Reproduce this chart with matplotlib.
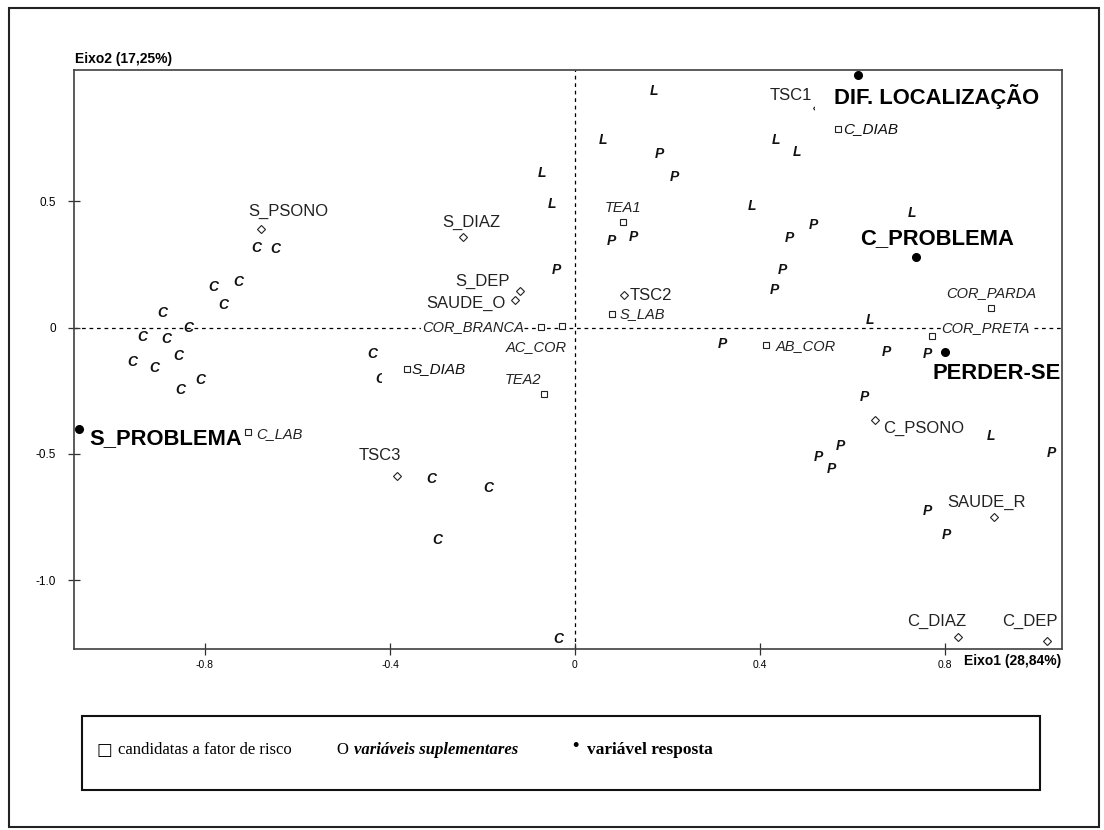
import matplotlib
matplotlib.use('Agg')
import matplotlib.pyplot as plt
from matplotlib.patches import Rectangle

plt.rcParams['axes.unicode_minus'] = False

# ---------------- data ----------------
c_x = [-0.689, -0.647, -0.782, -0.727, -0.760, -0.892, -0.836, -0.935, -0.883, -0.857,
       -0.957, -0.910, -0.810, -0.853, -0.438, -0.420, -0.310, -0.187, -0.297, -0.036]
c_y = [0.314, 0.310, 0.160, 0.180, 0.089, 0.057, -0.002, -0.037, -0.045, -0.113,
       -0.136, -0.160, -0.207, -0.247, -0.105, -0.204, -0.599, -0.634, -0.840, -1.231]

l_x = [-0.072, -0.050, 0.170, 0.060, 0.434, 0.481, 0.382, 0.728, 0.637, 0.899]
l_y = [0.611, 0.488, 0.935, 0.741, 0.741, 0.694, 0.480, 0.453, 0.030, -0.429]

p_x = [-0.040, 0.183, 0.215, 0.079, 0.127, 0.464, 0.516, 0.449, 0.432, 0.319,
       0.674, 0.763, 0.626, 0.574, 0.527, 0.555, 1.031, 0.763, 0.802]
p_y = [0.227, 0.686, 0.595, 0.342, 0.358, 0.354, 0.405, 0.227, 0.148, -0.065,
       -0.097, -0.105, -0.275, -0.468, -0.512, -0.559, -0.496, -0.725, -0.820]

risk_labels = ['COR_BRANCA', 'AC_COR', 'S_LAB', 'S_DIAB', 'TEA2', 'TEA1', 'C_DIAB',
               'COR_PARDA', 'COR_PRETA', 'AB_COR', 'C_LAB']
risk_x = [-0.074, -0.029, 0.079, -0.364, -0.068, 0.103, 0.568, 0.899, 0.773, 0.414, -0.708]
risk_y = [0.002, 0.006, 0.053, -0.164, -0.263, 0.417, 0.784, 0.077, -0.034, -0.069, -0.413]

supp_labels = ['S_PSONO', 'S_DIAZ', 'S_DEP', 'SAUDE_O', 'TSC2', 'TSC1', 'TSC3',
               'C_PSONO', 'SAUDE_R', 'C_DIAZ', 'C_DEP']
supp_x = [-0.680, -0.243, -0.118, -0.129, 0.105, 0.523, -0.384, 0.648, 0.905, 0.829, 1.020]
supp_y = [0.389, 0.358, 0.144, 0.109, 0.128, 0.867, -0.587, -0.366, -0.749, -1.223, -1.239]

resp_labels = ['DIF. LOCALIZAÇÃO', 'C_PROBLEMA', 'PERDER-SE', 'S_PROBLEMA']
resp_x = [0.613, 0.737, 0.801, -1.072]
resp_y = [0.998, 0.279, -0.097, -0.401]

xticks = [-0.8, -0.4, 0, 0.4, 0.8]
xtick_labels = ['-0.8', '-0.4', '0', '0.4', '0.8']
yticks = [0.5, 0, -0.5, -1.0]
ytick_labels = ['0.5', '0', '-0.5', '-1.0']

# ---------------- layout (label offsets in pixels: dx right, dy down) ----------------
risk_off = {'COR_BRANCA': (-17, 0, 'right'), 'AC_COR': (-25, 21, 'center'),
            'S_LAB': (8, 0, 'left'), 'S_DIAB': (5, 0, 'left'), 'TEA2': (-21, -14, 'center'),
            'TEA1': (0, -14, 'center'), 'C_DIAB': (5, 0, 'left'), 'COR_PARDA': (1, -15, 'center'),
            'COR_PRETA': (9, -8, 'left'), 'AB_COR': (9, 1, 'left'), 'C_LAB': (9, 2, 'left')}
supp_off = {'S_PSONO': (28, -18, 'center'), 'S_DIAZ': (9, -15, 'center'),
            'S_DEP': (-38, -10, 'center'), 'SAUDE_O': (-49, 3, 'center'),
            'TSC2': (6, 0, 'left'), 'TSC1': (-5, -13, 'right'), 'TSC3': (-18, -20, 'center'),
            'C_PSONO': (8, 8, 'left'), 'SAUDE_R': (-7, -15, 'center'),
            'C_DIAZ': (-22, -15, 'center'), 'C_DEP': (-17, -19, 'center')}
resp_off = {'DIF. LOCALIZAÇÃO': (-24, 21, 'left'), 'C_PROBLEMA': (21, -18, 'center'),
            'PERDER-SE': (-13, 21, 'left'), 'S_PROBLEMA': (10, 10, 'left')}
big_box = {'S_DIAB': 21, 'C_DIAB': 20}

W, H = 1104, 830
SANS = 'Liberation Sans'
SERIF = ['Liberation Serif', 'DejaVu Sans']


def fx(px):
    return px / W


def fy(py):
    return 1 - py / H


fig = plt.figure(figsize=(W / 100, H / 100), dpi=100)
fig.patch.set_facecolor('white')

ax = fig.add_axes([fx(74), fy(649), (1062 - 74) / W, (649 - 70) / H])
ax.set_xlim(-1.0833, 1.0531)
ax.set_ylim(-1.271, 1.018)
for s in ax.spines.values():
    s.set_color('#404040')
    s.set_linewidth(1.2)

ax.axhline(0, color='black', lw=0.9, ls=(0, (3, 3)), zorder=1)
ax.axvline(0, color='black', lw=0.9, ls=(0, (3, 3)), zorder=1)

ax.set_xticks(xticks)
ax.set_xticklabels(xtick_labels, family=SANS, fontsize=7.5)
ax.set_yticks(yticks)
ax.set_yticklabels(ytick_labels, family=SANS, fontsize=8.5)
ax.tick_params(axis='both', direction='inout', length=8, width=0.9, color='#303030')
ax.tick_params(axis='y', pad=9)
ax.tick_params(axis='x', pad=4)

letter_style = dict(family=SANS, fontsize=10, fontweight='bold', fontstyle='italic',
                    ha='center', va='center', zorder=2, color='#111111')
for x, y in zip(c_x, c_y):
    ax.text(x, y, 'C', **letter_style)
for x, y in zip(l_x, l_y):
    ax.text(x, y, 'L', **letter_style)
for x, y in zip(p_x, p_y):
    ax.text(x, y, 'P', **letter_style)

# supplementary variables (open diamonds)
ax.plot(supp_x, supp_y, 'D', ms=4, mfc='white', mec='#222222', mew=0.8, ls='none', zorder=2)
for lab, x, y in zip(supp_labels, supp_x, supp_y):
    dx, dy, ha = supp_off[lab]
    ax.annotate(lab, (x, y), xytext=(dx, -dy), textcoords='offset pixels', ha=ha, va='center',
                family=SANS, fontsize=12, color='#222222', zorder=4,
                bbox=dict(facecolor='white', edgecolor='none', pad=0.5))

# risk factor candidates (open squares)
for lab, x, y in zip(risk_labels, risk_x, risk_y):
    dx, dy, ha = risk_off[lab]
    if lab in big_box:
        ax.annotate(lab, (x, y), xytext=(dx, -dy), textcoords='offset pixels', ha=ha, va='center',
                    family=SANS, fontsize=11, fontstyle='italic', color='#111111', zorder=2.5,
                    bbox=dict(facecolor='white', edgecolor='none', pad=big_box[lab]))
    else:
        ax.annotate(lab, (x, y), xytext=(dx, -dy), textcoords='offset pixels', ha=ha, va='center',
                    family=SANS, fontsize=10.5, fontstyle='italic', color='#222222', zorder=4,
                    bbox=dict(facecolor='white', edgecolor='none', pad=0.5))
ax.plot(risk_x, risk_y, 's', ms=4.3, mfc='white', mec='#222222', mew=0.8, ls='none', zorder=3)

# response variable (filled dots)
ax.plot(resp_x, resp_y, 'o', ms=5.5, color='black', ls='none', zorder=3)
for lab, x, y in zip(resp_labels, resp_x, resp_y):
    dx, dy, ha = resp_off[lab]
    ax.annotate(lab, (x, y), xytext=(dx, -dy), textcoords='offset pixels', ha=ha, va='center',
                family=SANS, fontsize=15.8, fontweight='bold', color='black', zorder=4)

# axis titles
fig.text(fx(75), fy(59), 'Eixo2 (17,25%)', family=SANS, fontsize=10, fontweight='bold',
         ha='left', va='center')
fig.text(fx(1061), fy(661), 'Eixo1 (28,84%)', family=SANS, fontsize=10, fontweight='bold',
         ha='right', va='center')

# outer frame
fig.patches.append(Rectangle((fx(9), fy(827)), (1099 - 9) / W, (827 - 8) / H, fill=False,
                             lw=1.5, edgecolor='#222222', transform=fig.transFigure))
# legend box
fig.patches.append(Rectangle((fx(82), fy(790)), (1040 - 82) / W, (790 - 716) / H, fill=False,
                             lw=1.5, edgecolor='#111111', transform=fig.transFigure))
ly = fy(750)
fig.text(fx(97), ly, '□', family=['DejaVu Sans'], fontsize=12, va='center', ha='left')
fig.text(fx(118), ly, 'candidatas a fator de risco', family=SERIF, fontsize=12, va='center', ha='left')
fig.text(fx(336), ly, 'O', family=SERIF, fontsize=12, va='center', ha='left')
fig.text(fx(354), ly, 'variáveis suplementares', family=SERIF, fontsize=12, fontweight='bold',
         fontstyle='italic', va='center', ha='left')
fig.text(fx(572), fy(746), '•', family=SERIF, fontsize=13, fontweight='bold', va='center', ha='left')
fig.text(fx(587), ly, 'variável resposta', family=SERIF, fontsize=12.5, fontweight='bold',
         va='center', ha='left')

fig.savefig('out.png', dpi=100, facecolor='white')
